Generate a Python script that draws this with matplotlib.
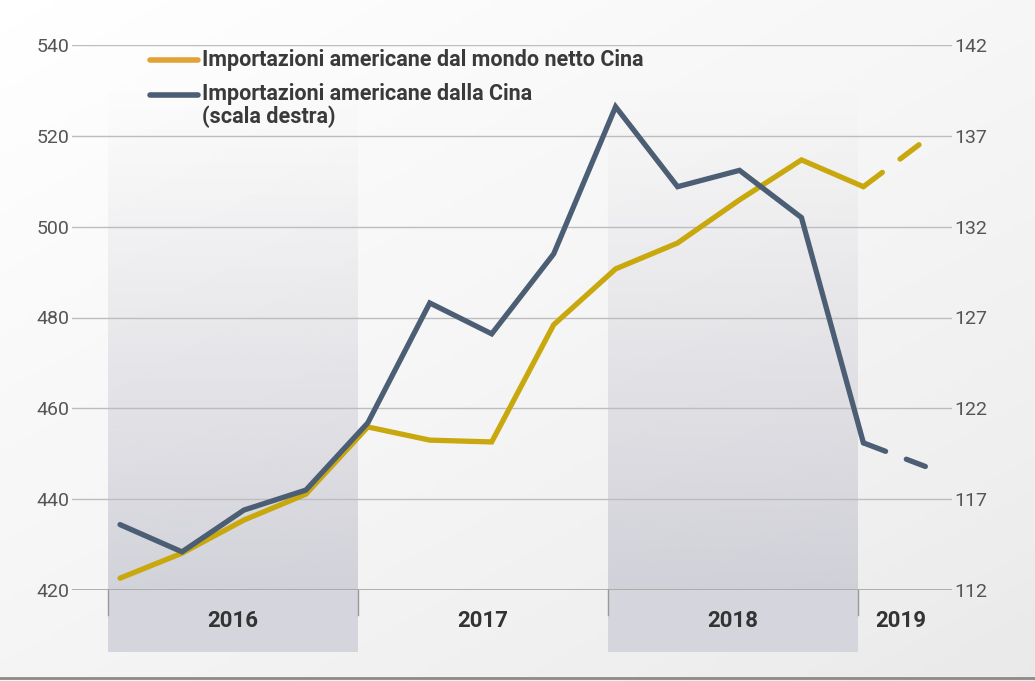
import numpy as np
import matplotlib
matplotlib.use('Agg')
import matplotlib.pyplot as plt
import matplotlib.transforms as mtransforms
from matplotlib.lines import Line2D
from matplotlib.colors import to_rgb

plt.rcParams['font.family'] = ['Roboto', 'DejaVu Sans']

# Dati trimestrali 2016 T1 - 2019 T2
trimestri = ['2016T1', '2016T2', '2016T3', '2016T4',
             '2017T1', '2017T2', '2017T3', '2017T4',
             '2018T1', '2018T2', '2018T3', '2018T4',
             '2019T1', '2019T2']
mondo_netto_cina = [422.6, 428.1, 435.4, 441.1, 455.9, 453.0, 452.6,
                    478.4, 490.7, 496.4, 505.9, 514.7, 508.8, 519.1]
dalla_cina = [115.6, 114.1, 116.4, 117.5, 121.2, 127.8, 126.1,
              130.5, 138.6, 134.2, 135.1, 132.5, 120.1, 118.8]
anni = ['2016', '2017', '2018', '2019']
tick_sx = [420, 440, 460, 480, 500, 520, 540]
tick_dx = [112, 117, 122, 127, 132, 137, 142]

col_oro = '#C8A80C'
col_oro_leg = '#E3A235'
col_blu = '#4B5E74'
col_testo = '#555555'

fig = plt.figure(figsize=(10.35, 6.81), dpi=100)

# sfondo sfumato
bg = fig.add_axes([0, 0, 1, 1], zorder=-10)
gy, gx = np.mgrid[0:1:200j, 0:1:300j]
grad = 0.3 * gy + 0.25 * gx
bg.imshow(grad, cmap='Greys', vmin=0, vmax=3.4, aspect='auto',
          extent=[0, 1, 0, 1], origin='upper')
bg.set_xlim(0, 1)
bg.set_ylim(0, 1)
bg.axis('off')
bg.axhline(0.004, color='#8a8a8a', lw=2)

ax = fig.add_axes([72 / 1035, 1 - 590 / 681, 880 / 1035, 545 / 681])
ax.patch.set_alpha(0)
ax2 = ax.twinx()
ax2.patch.set_alpha(0)

x = np.arange(len(trimestri))
xlim = (-0.775, 13.43)
bordi = [-0.19 + 4.034 * k for k in range(4)] + [13.43]

# bande grigie per 2016 e 2018 (sfumate verso l'alto)
trans = mtransforms.blended_transform_factory(ax.transData, ax.transAxes)
rgba = np.zeros((200, 1, 4))
rgba[:, 0, :3] = to_rgb('#c4c4cf')
rgba[:, 0, 3] = np.linspace(0.0, 0.75, 200) ** 1.2
for k in range(4):
    x0, x1 = bordi[k], bordi[k + 1]
    if k % 2 == 0:
        ax.imshow(rgba, extent=[x0, x1, 0.0, 0.93], transform=trans,
                  aspect='auto', zorder=0, origin='upper')
        ax.add_patch(plt.Rectangle((x0, -0.113), x1 - x0, 0.113, transform=trans,
                                   color='#d5d5dd', clip_on=False, zorder=0, lw=0))
    ax.text((x0 + min(x1, 13.3)) / 2, -0.056, anni[k], transform=trans,
            ha='center', va='center', fontsize=16, fontweight='bold',
            color='#333333')
    ax.plot([x0, x0], [0, -0.045], transform=trans, color='#999999',
            lw=1, clip_on=False)

# linee (ultimo tratto tratteggiato)
ax.plot(x[:-1], mondo_netto_cina[:-1], color=col_oro, lw=3.8,
        solid_capstyle='round', solid_joinstyle='miter', zorder=3)
ax.plot(x[-2:], mondo_netto_cina[-2:], color=col_oro, lw=3.8,
        linestyle=(0, (4.5, 4.2)), dash_capstyle='round', zorder=3)
ax2.plot(x[:-1], dalla_cina[:-1], color=col_blu, lw=3.8,
         solid_capstyle='round', solid_joinstyle='miter', zorder=3)
ax2.plot(x[-2:], dalla_cina[-2:], color=col_blu, lw=3.8,
         linestyle=(0, (4.5, 4.2)), dash_capstyle='round', zorder=3)

ax.set_xlim(*xlim)
ax.set_ylim(420, 540)
ax2.set_ylim(112, 142)
ax.set_yticks(tick_sx)
ax2.set_yticks(tick_dx)
ax.set_xticks([])
for a in (ax, ax2):
    for s in a.spines.values():
        s.set_visible(False)
    a.tick_params(axis='y', length=0, labelsize=14, labelcolor=col_testo, pad=2)
ax.grid(axis='y', color='#bdbdbd', lw=1)
ax.axhline(420, color='#a0a0a0', lw=1.2, zorder=1)

# legenda manuale
fig.add_artist(Line2D([150 / 1035, 198 / 1035], [1 - 60 / 681] * 2,
                      color=col_oro_leg, lw=4, solid_capstyle='round'))
fig.add_artist(Line2D([150 / 1035, 198 / 1035], [1 - 95 / 681] * 2,
                      color=col_blu, lw=4, solid_capstyle='round'))
fig.text(202 / 1035, 1 - 60 / 681, 'Importazioni americane dal mondo netto Cina',
         fontsize=15.5, fontweight='bold', color='#3a3a3a', va='center')
fig.text(202 / 1035, 1 - 83 / 681, 'Importazioni americane dalla Cina\n(scala destra)',
         fontsize=15.5, fontweight='bold', color='#3a3a3a', va='top', linespacing=1.05)

fig.savefig('out.png', dpi=100)
